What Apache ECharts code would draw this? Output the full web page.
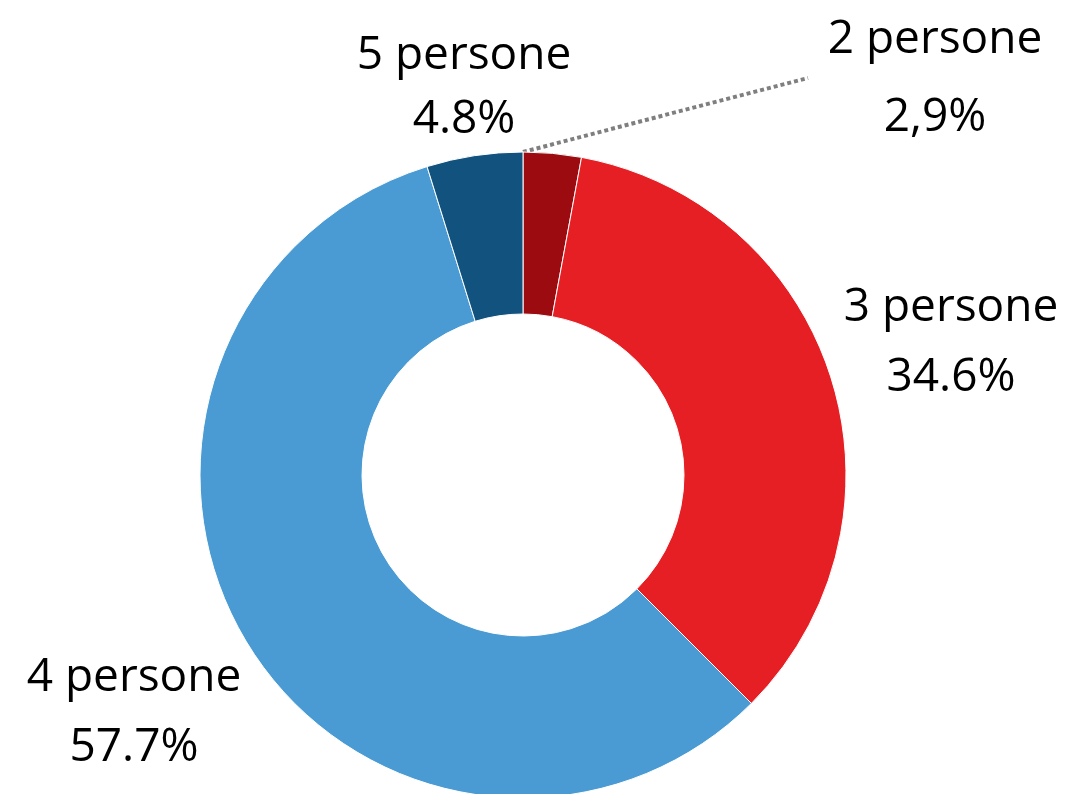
<!DOCTYPE html>
<html>
<head>
<meta charset="utf-8">
<script src="https://cdn.jsdelivr.net/npm/echarts@6/dist/echarts.min.js"></script>
<style>
  html, body { margin: 0; padding: 0; background: #fff; }
  #chart { width: 1068px; height: 794px; }
</style>
</head>
<body>
<div id="chart"></div>
<script>
// data
const categories = ['2 persone', '3 persone', '4 persone', '5 persone'];
const values = [2.9, 34.6, 57.7, 4.8];
const pctLabels = ['2,9%', '34.6%', '57.7%', '4.8%'];

const colors = ['#9b0b10', '#e61f25', '#4a9bd3', '#11527f'];

window.addEventListener("load", () => {
  let chart = echarts.init(document.getElementById("chart"), null, { renderer: 'canvas' });

  // where each label sits (center of the 2-line block) and its line spacing
  const labelPos = [
    { x: 935, y: 79, lh: 78 },
    { x: 951, y: 343, lh: 70 },
    { x: 134, y: 713, lh: 70 },
    { x: 464, y: 88, lh: 64 }
  ];

  const cx = 523, cy = 475, rOut = 323, rIn = 161;

  let data = categories.map((name, i) => ({
    name: name,
    value: values[i],
    itemStyle: { color: colors[i] },
    label: { lineHeight: labelPos[i].lh },
    labelLine: {
      show: i === 0,
      lineStyle: { color: '#7f7f7f', width: 4, type: [4, 3] }
    }
  }));

  let option = {
    backgroundColor: '#ffffff',
    animation: false,
    series: [
      {
        type: 'pie',
        center: [cx, cy],
        radius: [rIn, rOut],
        startAngle: 90,
        clockwise: true,
        avoidLabelOverlap: false,
        itemStyle: { borderColor: '#ffffff', borderWidth: 1 },
        label: {
          show: true,
          position: 'outside',
          fontFamily: 'Open Sans',
          fontSize: 46,
          color: '#000000',
          align: 'center',
          formatter: function (p) {
            return p.name + '\n' + pctLabels[p.dataIndex];
          }
        },
        labelLine: {
          show: false
        },
        labelLayout: function (params) {
          let pos = labelPos[params.dataIndex];
          let out = { x: pos.x, y: pos.y, align: 'center', verticalAlign: 'middle' };
          if (params.dataIndex === 0) {
            // leader line from top of the ring to beside the label
            out.labelLinePoints = [[cx, cy - rOut], [665, 115], [808, 78]];
          }
          return out;
        },
        data: data
      }
    ]
  };

  chart.setOption(option);
  window.addEventListener('resize', chart.resize);
});
</script>
</body>
</html>
